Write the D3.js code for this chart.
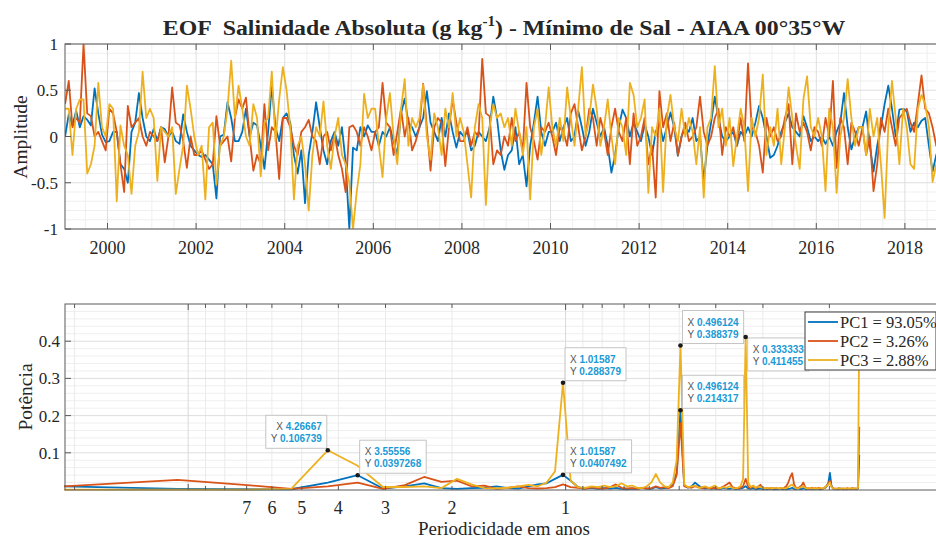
<!DOCTYPE html>
<html lang="pt">
<head>
<meta charset="UTF-8">
<title>EOF Salinidade Absoluta</title>
<script src="https://d3js.org/d3.v7.min.js"></script>
<style>
  body { margin: 0; background: #fff; }
  svg text { font-family: "Liberation Serif", "Times New Roman", serif; fill: #262626; }
  .tip text { font-family: "Liberation Sans", Arial, sans-serif; }
</style>
</head>
<body>
<svg id="chart" width="936" height="538"></svg>
<script>
// monthly amplitudes from Jan 1999
var pc1 = [
  0.0, 0.24, 0.12, 0.28, 0.1, 0.22, 0.18, 0.12, 0.52, 0.25, 0.02, -0.06,
  -0.05, 0.05, 0.05, -0.3, -0.35, -0.5, 0.05, 0.15, 0.47, 0.2, 0.0, -0.05,
  0.08, -0.05, 0.1, 0.08, 0.0, 0.05, -0.05, -0.08, 0.24, 0.05, -0.1, -0.15,
  -0.2, -0.22, -0.2, -0.25, -0.3, -0.67, 0.0, 0.02, 0.37, 0.2, -0.05, -0.05,
  0.05, 0.3, 0.0, 0.15, 0.12, -0.1, -0.35, 0.05, 0.55, 0.1, -0.05, 0.2,
  0.25, 0.15, -0.2, -0.4, -0.15, -0.72, -0.2, 0.05, 0.37, 0.1, -0.15, -0.3,
  -0.05, 0.05, -0.1, 0.1, -0.28, -1.0, -0.12, -0.15, 0.1, 0.0, 0.12, 0.05,
  0.05, -0.1, 0.05, 0.0, 0.1, -0.05, -0.2, 0.25, 0.41, 0.15, 0.1, 0.0,
  0.1, 0.2, 0.49, 0.15, 0.05, -0.05, 0.2, 0.0, 0.25, 0.05, -0.12, 0.05,
  0.0, 0.05, -0.15, -0.1, 0.05, 0.0, -0.05, 0.1, 0.43, 0.2, -0.15, -0.36,
  -0.2, -0.15, 0.1, -0.3, -0.2, -0.54, -0.1, 0.15, 0.43, 0.05, -0.1, 0.05,
  0.05, 0.15, -0.05, 0.1, 0.2, -0.05, 0.0, 0.28, 0.1, -0.1, 0.05, 0.3,
  0.15, 0.0, 0.1, -0.1, -0.39, -0.2, 0.1, 0.29, 0.2, 0.0, 0.15, 0.05,
  -0.05, 0.13, 0.0, -0.2, 0.05, 0.15, -0.05, 0.1, 0.26, 0.1, -0.21, 0.0,
  0.1, 0.05, 0.2, -0.05, 0.0, -0.48, -0.1, 0.15, 0.43, 0.2, 0.0, -0.05,
  0.0, 0.05, -0.1, 0.05, 0.0, 0.1, 0.0, 0.15, 0.33, 0.2, 0.0, -0.23,
  -0.2, -0.1, 0.05, 0.15, 0.25, 0.1, 0.05, 0.0, 0.22, 0.1, -0.05, 0.0,
  -0.05, 0.0, -0.08, 0.0, -0.1, 0.05, 0.15, 0.47, 0.1, -0.14, 0.0, 0.1,
  0.1, 0.27, -0.1, -0.38, -0.1, 0.1, 0.35, 0.55, 0.3, 0.0, 0.29, 0.3,
  0.28, 0.05, 0.15, 0.1, 0.17, 0.2, -0.1, -0.38, -0.2, -0.1, 0.05
];
var pc2 = [
  0.35, 0.6, 0.1, 0.2, 0.15, 1.0, 0.25, 0.22, 0.0, 0.05, -0.05, -0.15,
  0.3, 0.25, 0.05, -0.3, -0.6, 0.33, 0.1, 0.15, 0.2, 0.0, -0.1, 0.05,
  0.0, -0.05, 0.1, -0.28, 0.0, 0.53, 0.15, 0.12, -0.05, -0.34, 0.0, -0.2,
  -0.2, -0.15, -0.25, -0.35, -0.3, 0.22, -0.1, -0.05, 0.0, -0.27, 0.2, 0.4,
  0.3, 0.42, 0.0, -0.37, -0.2, -0.3, 0.35, -0.15, 0.1, 0.05, -0.46, 0.2,
  0.2, 0.1, -0.1, -0.2, 0.05, 0.1, 0.18, 0.0, -0.05, -0.3, 0.0, 0.05,
  -0.15, 0.02, -0.2, -0.35, -0.6, 0.1, 0.12, 0.05, -0.1, 0.1, 0.0, -0.15,
  0.05, 0.1, 0.58, 0.15, 0.1, -0.2, 0.05, 0.3, 0.0, 0.2, -0.15, -0.05,
  0.1, 0.57, 0.1, -0.37, 0.1, 0.2, 0.15, -0.32, 0.1, 0.4, 0.15, -0.05,
  -0.05, 0.1, -0.1, 0.05, 0.0, 0.84, 0.25, 0.22, -0.3, -0.15, -0.2, 0.0,
  -0.1, 0.2, -0.05, 0.05, -0.15, 0.58, 0.1, -0.05, -0.25, 0.1, 0.05, 0.15,
  0.0, -0.2, 0.1, 0.05, -0.1, 0.25, 0.35, 0.1, -0.15, 0.0, 0.3, 0.2,
  -0.1, 0.2, 0.05, -0.2, 0.1, 0.3, 0.05, -0.05, 0.2, -0.3, 0.25, -0.1,
  0.0, 0.2, -0.3, -0.1, -0.66, 0.49, 0.1, 0.25, -0.05, 0.15, -0.2, 0.0,
  0.15, -0.05, 0.0, 0.1, 0.43, 0.05, -0.1, 0.0, 0.2, 0.3, -0.2, 0.1,
  0.0, 0.1, -0.1, 0.2, -0.05, 0.79, 0.1, 0.05, -0.1, -0.39, 0.2, 0.0,
  0.1, -0.05, 0.0, 0.2, 0.35, -0.3, 0.25, 0.05, 0.15, 0.05, -0.15, 0.1,
  0.05, -0.1, 0.2, 0.0, 0.6, -0.34, 0.2, 0.1, -0.3, 0.15, 0.05, -0.1,
  0.1, -0.2, 0.0, -0.59, -0.3, 0.2, 0.05, 0.3, 0.1, -0.1, 0.2, 0.25,
  0.3, 0.15, 0.05, 0.35, 0.66, 0.3, 0.25, 0.1, -0.1, 0.0, 0.1
];
var pc3 = [
  0.3, 0.3, -0.2, 0.3, 0.4, 0.4, -0.4, -0.3, -0.1, 0.58, 0.1, 0.0,
  0.35, 0.3, -0.7, 0.12, -0.1, -0.2, -0.62, -0.1, 0.05, 0.7, 0.2, 0.3,
  0.2, -0.48, 0.1, 0.05, 0.0, 0.1, -0.62, -0.35, -0.1, 0.55, 0.3, 0.0,
  -0.2, -0.1, -0.68, 0.1, 0.15, -0.52, -0.1, 0.0, 0.3, 0.82, 0.2, 0.55,
  0.3, 0.0, -0.1, 0.35, 0.2, -0.43, 0.15, 0.2, 0.7, -0.05, 0.4, 0.75,
  0.5, 0.1, -0.68, -0.1, 0.0, -0.3, -0.8, -0.2, 0.1, 0.0, 0.38, -0.1,
  -0.35, 0.0, 0.2, -0.2, -0.3, -0.5, -1.0, -0.6, -0.3, 0.46, 0.2, 0.3,
  0.3, -0.1, -0.44, 0.2, 0.47, 0.0, -0.3, 0.3, 0.62, -0.1, 0.2, 0.1,
  0.2, 0.56, 0.0, -0.25, 0.25, 0.1, -0.2, 0.3, 0.1, 0.47, 0.0, 0.2,
  0.05, -0.3, -0.66, 0.1, 0.35, 0.2, -0.74, 0.1, 0.35, 0.2, 0.25, 0.1,
  0.2, -0.1, 0.3, 0.05, -0.2, 0.1, -0.68, 0.1, 0.3, -0.2, 0.1, 0.53,
  0.1, -0.1, 0.2, -0.05, 0.53, 0.2, -0.1, 0.3, 0.75, 0.0, 0.2, 0.56,
  0.3, -0.1, 0.1, 0.4, 0.0, -0.3, 0.2, 0.1, -0.2, 0.58, 0.45, 0.1,
  0.2, 0.4, -0.61, 0.1, 0.0, 0.3, -0.6, 0.2, 0.45, 0.1, -0.05, 0.3,
  0.0, 0.2, 0.05, -0.3, 0.1, -0.66, 0.1, 0.2, 0.76, 0.1, 0.3, -0.1,
  0.2, -0.32, 0.0, 0.3, 0.1, -0.59, 0.2, 0.0, 0.2, 0.67, -0.2, 0.1,
  -0.1, 0.3, -0.3, 0.1, 0.53, 0.2, -0.1, -0.35, 0.4, 0.65, 0.1, 0.0,
  0.2, 0.0, -0.59, 0.3, 0.1, -0.61, 0.0, 0.2, 0.62, 0.2, -0.1, 0.1,
  0.1, -0.2, 0.3, 0.0, 0.2, -0.3, -0.88, 0.1, 0.6, 0.2, -0.3, 0.3,
  0.1, -0.3, -0.35, 0.3, 0.45, 0.35, 0.1, -0.49, -0.3, 0.0, 0.1
];

// power spectra, harmonics k = 1..128 of a 256-month FFT
var nfft = 256;
var pow1 = [
  0.010, 0.003, 0.002, 0.002, 0.020, 0.0397, 0.004, 0.010, 0.018, 0.005,
  0.003, 0.005, 0.006, 0.010, 0.005, 0.004, 0.010, 0.015, 0.018, 0.030,
  0.0407, 0.025, 0.008, 0.004, 0.006, 0.003, 0.005, 0.004, 0.006, 0.003,
  0.002, 0.004, 0.003, 0.006, 0.004, 0.003, 0.008, 0.004, 0.005, 0.006,
  0.012, 0.045, 0.2143, 0.012, 0.006, 0.010, 0.020, 0.012, 0.006, 0.004,
  0.006, 0.003, 0.005, 0.004, 0.003, 0.006, 0.004, 0.003, 0.005, 0.002,
  0.003, 0.004, 0.006, 0.010, 0.004, 0.003, 0.005, 0.002, 0.003, 0.004,
  0.002, 0.003, 0.002, 0.004, 0.003, 0.002, 0.003, 0.002, 0.004, 0.002,
  0.003, 0.002, 0.003, 0.004, 0.006, 0.003, 0.002, 0.004, 0.003, 0.002,
  0.005, 0.003, 0.002, 0.003, 0.004, 0.002, 0.003, 0.002, 0.004, 0.003,
  0.002, 0.003, 0.004, 0.006, 0.010, 0.020, 0.046, 0.012, 0.004, 0.003,
  0.002, 0.003, 0.002, 0.004, 0.003, 0.002, 0.003, 0.002, 0.003, 0.002,
  0.003, 0.002, 0.004, 0.002, 0.003, 0.002, 0.004, 0.094
];
var pow2 = [
  0.010, 0.027, 0.014, 0.003, 0.010, 0.020, 0.003, 0.013, 0.035, 0.022,
  0.025, 0.010, 0.012, 0.003, 0.006, 0.010, 0.005, 0.004, 0.005, 0.008,
  0.015, 0.008, 0.006, 0.004, 0.007, 0.005, 0.004, 0.008, 0.015, 0.006,
  0.004, 0.005, 0.003, 0.006, 0.004, 0.005, 0.010, 0.006, 0.008, 0.005,
  0.010, 0.040, 0.180, 0.010, 0.008, 0.006, 0.010, 0.008, 0.005, 0.007,
  0.004, 0.006, 0.005, 0.004, 0.006, 0.010, 0.015, 0.020, 0.008, 0.005,
  0.004, 0.006, 0.010, 0.030, 0.008, 0.006, 0.010, 0.005, 0.008, 0.014,
  0.006, 0.004, 0.005, 0.003, 0.005, 0.004, 0.006, 0.003, 0.005, 0.004,
  0.006, 0.010, 0.020, 0.035, 0.045, 0.015, 0.006, 0.005, 0.008, 0.012,
  0.020, 0.008, 0.004, 0.005, 0.003, 0.006, 0.004, 0.005, 0.003, 0.006,
  0.004, 0.003, 0.005, 0.008, 0.012, 0.018, 0.025, 0.010, 0.005, 0.003,
  0.004, 0.003, 0.005, 0.003, 0.004, 0.002, 0.004, 0.003, 0.005, 0.003,
  0.004, 0.003, 0.005, 0.003, 0.004, 0.003, 0.006, 0.170
];
var pow3 = [
  0.001, 0.001, 0.001, 0.003, 0.1067, 0.065, 0.008, 0.008, 0.010, 0.005,
  0.030, 0.015, 0.005, 0.004, 0.006, 0.010, 0.014, 0.010, 0.020, 0.050,
  0.2884, 0.025, 0.008, 0.006, 0.010, 0.008, 0.012, 0.008, 0.010, 0.018,
  0.010, 0.012, 0.006, 0.005, 0.010, 0.020, 0.043, 0.020, 0.010, 0.008,
  0.020, 0.080, 0.3884, 0.015, 0.008, 0.010, 0.012, 0.006, 0.008, 0.010,
  0.006, 0.008, 0.012, 0.006, 0.005, 0.008, 0.006, 0.010, 0.006, 0.004,
  0.006, 0.010, 0.030, 0.4115, 0.020, 0.008, 0.012, 0.006, 0.010, 0.008,
  0.006, 0.004, 0.005, 0.006, 0.004, 0.005, 0.006, 0.004, 0.005, 0.006,
  0.004, 0.005, 0.008, 0.012, 0.015, 0.008, 0.005, 0.004, 0.006, 0.008,
  0.010, 0.006, 0.004, 0.005, 0.006, 0.004, 0.005, 0.003, 0.005, 0.004,
  0.006, 0.004, 0.005, 0.008, 0.010, 0.015, 0.020, 0.008, 0.005, 0.004,
  0.003, 0.004, 0.005, 0.003, 0.004, 0.005, 0.003, 0.004, 0.005, 0.003,
  0.004, 0.005, 0.003, 0.004, 0.005, 0.004, 0.006, 0.450
];

var names = ["PC1 = 93.05%", "PC2 = 3.26%", "PC3 = 2.88%"];
var colors = ["#0072BD", "#D95319", "#EDB120"];
var yearTicks = [2000, 2002, 2004, 2006, 2008, 2010, 2012, 2014, 2016, 2018];
var ampTicks = [-1, -0.5, 0, 0.5, 1];
var periodLabels = [7, 6, 5, 4, 3, 2, 1];
var powTicks = [0.1, 0.2, 0.3, 0.4];
var tips = [
  { x: "4.26667", y: "0.106739", side: "nw" },
  { x: "3.55556", y: "0.0397268", side: "ne" },
  { x: "1.01587", y: "0.288379", side: "ne" },
  { x: "1.01587", y: "0.0407492", side: "ne" },
  { x: "0.496124", y: "0.388379", side: "ne" },
  { x: "0.496124", y: "0.214317", side: "ne" },
  { x: "0.333333", y: "0.411455", side: "se" }
];

var svg = d3.select("#chart");
var L = 65, R = 943;

function dateOf(i) { return 1999 + (i + 0.5) / 12; }

// ---------- top panel ----------
var x1 = d3.scaleLinear().domain([1999.04, 2018.86]).range([L, R]);
var y1 = d3.scaleLinear().domain([-1, 1]).range([229, 44]);

var g1 = svg.append("g");
g1.append("clipPath").attr("id", "clip1").append("rect")
  .attr("x", L).attr("y", 44).attr("width", R - L).attr("height", 185);

// minor grid
g1.selectAll(".my").data(d3.range(-0.9, 1, 0.1).filter(function (v) { return Math.abs(v * 2 - Math.round(v * 2)) > 1e-6; }))
  .enter().append("line")
  .attr("x1", L).attr("x2", R).attr("y1", function (d) { return y1(d); }).attr("y2", function (d) { return y1(d); })
  .attr("stroke", "#efefef");
g1.selectAll(".mx").data(d3.range(1999.5, 2019, 0.5).filter(function (v) { return v % 2 !== 0; }))
  .enter().append("line")
  .attr("y1", 44).attr("y2", 229).attr("x1", function (d) { return x1(d); }).attr("x2", function (d) { return x1(d); })
  .attr("stroke", "#efefef");
// major grid
g1.selectAll(".gy").data(ampTicks).enter().append("line")
  .attr("x1", L).attr("x2", R).attr("y1", function (d) { return y1(d); }).attr("y2", function (d) { return y1(d); })
  .attr("stroke", "#dedede");
g1.selectAll(".gx").data(yearTicks).enter().append("line")
  .attr("y1", 44).attr("y2", 229).attr("x1", function (d) { return x1(d); }).attr("x2", function (d) { return x1(d); })
  .attr("stroke", "#dedede");

var line1 = d3.line().x(function (d, i) { return x1(dateOf(i)); }).y(function (d) { return y1(d); });
[pc1, pc2, pc3].forEach(function (s, j) {
  g1.append("path").datum(s).attr("d", line1).attr("fill", "none")
    .attr("stroke", colors[j]).attr("stroke-width", 1.8).attr("stroke-linejoin", "round")
    .attr("clip-path", "url(#clip1)");
});

// box and ticks
g1.append("rect").attr("x", L).attr("y", 44).attr("width", R - L).attr("height", 185)
  .attr("fill", "none").attr("stroke", "#5a5a5a");
yearTicks.forEach(function (t) {
  g1.append("line").attr("x1", x1(t)).attr("x2", x1(t)).attr("y1", 229).attr("y2", 223).attr("stroke", "#5a5a5a");
  g1.append("line").attr("x1", x1(t)).attr("x2", x1(t)).attr("y1", 44).attr("y2", 50).attr("stroke", "#5a5a5a");
  g1.append("text").attr("x", x1(t)).attr("y", 254).attr("text-anchor", "middle")
    .attr("font-size", 18).text(t);
});
ampTicks.forEach(function (t) {
  g1.append("line").attr("x1", L).attr("x2", L + 6).attr("y1", y1(t)).attr("y2", y1(t)).attr("stroke", "#5a5a5a");
  g1.append("text").attr("x", 58).attr("y", y1(t) + 6).attr("text-anchor", "end")
    .attr("font-size", 17).text(t);
});
g1.append("text").attr("transform", "translate(27,137) rotate(-90)").attr("text-anchor", "middle")
  .attr("font-size", 19.5).text("Amplitude");

// title, stretched to the width it has in the figure
var title = svg.append("text").attr("x", 0).attr("y", 0).attr("text-anchor", "middle")
  .attr("font-size", 22).attr("font-weight", "bold").style("white-space", "pre");
title.append("tspan").text("EOF  Salinidade Absoluta (g kg");
title.append("tspan").attr("dy", -9).attr("font-size", 14).text("-1");
title.append("tspan").attr("dy", 9).text(") - Mínimo de Sal - AIAA 00°35°W");
var tw = title.node().getBBox().width;
title.attr("transform", "translate(504,35) scale(" + (683 / tw).toFixed(3) + ",1)");

// ---------- bottom panel ----------
var x2 = d3.scaleLog().domain([nfft / 12, 0.1]).range([64, R]);
var y2 = d3.scaleLinear().domain([0, 0.5]).range([490, 304]);
var g2 = svg.append("g");

var logMinor = [20, 9, 8, 7, 6, 5, 4, 3, 2, 0.9, 0.8, 0.7, 0.6, 0.5, 0.4, 0.3, 0.2];
var logMajor = [10, 1];

g2.selectAll(".my").data(d3.range(0.02, 0.5, 0.02).filter(function (v) { return Math.abs(v * 10 - Math.round(v * 10)) > 1e-6; }))
  .enter().append("line")
  .attr("x1", L).attr("x2", R).attr("y1", function (d) { return y2(d); }).attr("y2", function (d) { return y2(d); })
  .attr("stroke", "#efefef");
g2.selectAll(".mx").data(logMinor).enter().append("line")
  .attr("y1", 304).attr("y2", 490).attr("x1", function (d) { return x2(d); }).attr("x2", function (d) { return x2(d); })
  .attr("stroke", "#ebebeb");
g2.selectAll(".gy").data(powTicks).enter().append("line")
  .attr("x1", L).attr("x2", R).attr("y1", function (d) { return y2(d); }).attr("y2", function (d) { return y2(d); })
  .attr("stroke", "#dedede");
g2.selectAll(".gx").data(logMajor).enter().append("line")
  .attr("y1", 304).attr("y2", 490).attr("x1", function (d) { return x2(d); }).attr("x2", function (d) { return x2(d); })
  .attr("stroke", "#d8d8d8");

var line2 = d3.line().x(function (d, i) { return x2(nfft / 12 / (i + 1)); }).y(function (d) { return y2(d); });
[pow1, pow2, pow3].forEach(function (s, j) {
  g2.append("path").datum(s).attr("d", line2).attr("fill", "none")
    .attr("stroke", colors[j]).attr("stroke-width", 1.8).attr("stroke-linejoin", "round");
});

g2.append("rect").attr("x", L).attr("y", 304).attr("width", R - L).attr("height", 186)
  .attr("fill", "none").attr("stroke", "#5a5a5a");
logMinor.concat(logMajor).forEach(function (t) {
  var len = logMajor.indexOf(t) >= 0 ? 6 : 4;
  g2.append("line").attr("x1", x2(t)).attr("x2", x2(t)).attr("y1", 304).attr("y2", 304 + len).attr("stroke", "#5a5a5a");
  g2.append("line").attr("x1", x2(t)).attr("x2", x2(t)).attr("y1", 490).attr("y2", 490 - len).attr("stroke", "#5a5a5a");
});
periodLabels.forEach(function (t) {
  g2.append("text").attr("x", x2(t)).attr("y", 514).attr("text-anchor", "middle")
    .attr("font-size", 18).text(t);
});
powTicks.forEach(function (t) {
  g2.append("line").attr("x1", L).attr("x2", L + 6).attr("y1", y2(t)).attr("y2", y2(t)).attr("stroke", "#5a5a5a");
  g2.append("text").attr("x", 60).attr("y", y2(t) + 6).attr("text-anchor", "end")
    .attr("font-size", 17).text(t);
});
g2.append("text").attr("transform", "translate(32,397) rotate(-90)").attr("text-anchor", "middle")
  .attr("font-size", 19.5).text("Potência");
g2.append("text").attr("x", 504).attr("y", 535).attr("text-anchor", "middle")
  .attr("font-size", 19).text("Periodicidade em anos");

// data tips
tips.forEach(function (d) {
  var px = x2(+d.x), py = y2(+d.y);
  var tg = g2.append("g").attr("class", "tip");
  var rect = tg.append("rect").attr("fill", "#fff").attr("fill-opacity", 0.95)
    .attr("stroke", "#c4c4c4");
  var t1 = tg.append("text").attr("font-size", 10);
  t1.append("tspan").attr("fill", "#555").text("X ");
  t1.append("tspan").attr("fill", "#1a9ad6").attr("font-weight", "bold").text(d.x);
  var t2 = tg.append("text").attr("font-size", 10);
  t2.append("tspan").attr("fill", "#555").text("Y ");
  t2.append("tspan").attr("fill", "#1a9ad6").attr("font-weight", "bold").text(d.y);
  var w = Math.max(t1.node().getComputedTextLength(), t2.node().getComputedTextLength()) + 10;
  var h = 33;
  var bx = d.side === "nw" ? px - 1 - w : px + 2;
  var by = d.side === "se" ? py + 1 : py - 2 - h;
  rect.attr("x", bx).attr("y", by).attr("width", w).attr("height", h);
  if (d.side === "nw") {
    t1.attr("x", bx + w - 5).attr("text-anchor", "end");
    t2.attr("x", bx + w - 5).attr("text-anchor", "end");
  } else {
    t1.attr("x", bx + 5);
    t2.attr("x", bx + 5);
  }
  t1.attr("y", by + 15);
  t2.attr("y", by + 27);
  g2.append("circle").attr("cx", px).attr("cy", py).attr("r", 2.3).attr("fill", "#1a1a1a");
});

// legend
var lg = svg.append("g");
lg.append("rect").attr("x", 805).attr("y", 312).attr("width", 131).attr("height", 58)
  .attr("fill", "#fff").attr("stroke", "#3a3a3a");
names.forEach(function (n, j) {
  var yy = 322 + j * 19;
  lg.append("line").attr("x1", 808).attr("x2", 838).attr("y1", yy).attr("y2", yy)
    .attr("stroke", colors[j]).attr("stroke-width", 1.8);
  lg.append("text").attr("x", 840).attr("y", yy + 6).attr("font-size", 16.5).text(n);
});
</script>
</body>
</html>
